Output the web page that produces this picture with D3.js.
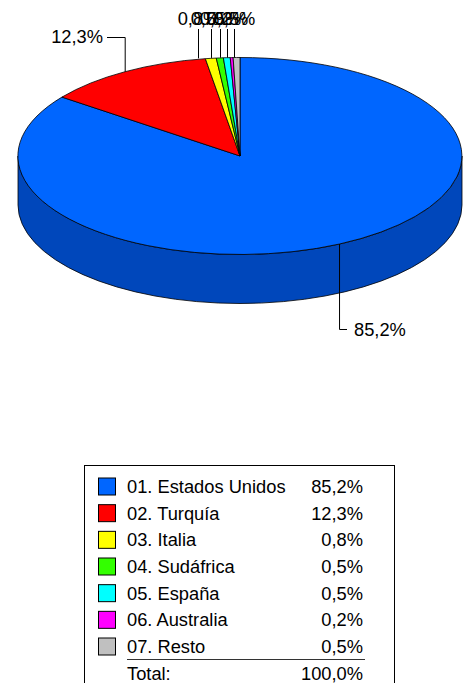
<!DOCTYPE html>
<html><head><meta charset="utf-8">
<script src="https://cdn.jsdelivr.net/npm/d3@7"></script>
<style>html,body{margin:0;padding:0;background:#fff}svg{display:block}text{font-family:"Liberation Sans",Arial,sans-serif;font-size:18.3px;fill:#000}</style>
</head><body><div id="c"></div>
<script>
const categories=["01. Estados Unidos","02. Turquía","03. Italia","04. Sudáfrica","05. España","06. Australia","07. Resto"];
const values=[85.2,12.3,0.8,0.5,0.5,0.2,0.5];
const valueLabels=["85,2%","12,3%","0,8%","0,5%","0,5%","0,2%","0,5%"];
const topColors=["#0066ff","#ff0000","#ffff00","#33ff00","#00ffff","#ff00ff","#c0c0c0"];
const sideColors=["#0047bb","#b30000","#b3b300","#24b300","#00b3b3","#b300b3","#868686"];
const totalLabel=["Total:","100,0%"];

const W=465,H=683,cx=240,cy=156,rx=222,ry=98.5,depth=49;
const svg=d3.select("#c").append("svg").attr("width",W).attr("height",H);
const pie=d3.pie().value(d=>d).sort(null);
const arcs=pie(values);
const px=a=>cx+rx*Math.sin(a), py=a=>cy-ry*Math.cos(a);

const lo=Math.PI/2, hi=3*Math.PI/2;
arcs.forEach((d,i)=>{
  const a=Math.max(d.startAngle,lo), b=Math.min(d.endAngle,hi);
  if(b<=a) return;
  const large=(b-a)>Math.PI?1:0;
  const s=`M${px(a)},${py(a)}A${rx},${ry} 0 ${large} 1 ${px(b)},${py(b)}L${px(b)},${py(b)+depth}A${rx},${ry} 0 ${large} 0 ${px(a)},${py(a)+depth}Z`;
  svg.append("path").attr("d",s).attr("fill",sideColors[i]).attr("stroke","#000").attr("stroke-width",0.8);
});
const arc=d3.arc().innerRadius(0).outerRadius(1);
const g=svg.append("g").attr("transform",`translate(${cx},${cy}) scale(${rx},${ry})`);
g.selectAll("path").data(arcs).join("path").attr("d",arc)
  .attr("fill",(d,i)=>topColors[i]).attr("stroke","#000").attr("stroke-width",0.8)
  .attr("vector-effect","non-scaling-stroke");

const mid=d=>(d.startAngle+d.endAngle)/2;
const lead=svg.append("g").attr("fill","none").attr("stroke","#000").attr("stroke-width",1);
const m0=mid(arcs[0]), m1=mid(arcs[1]);
lead.append("path").attr("d",`M${px(m0)},${py(m0)}V329.5H347`);
lead.append("path").attr("d",`M${px(m1)},${py(m1)}V37.5H107`);
svg.append("text").attr("x",354).attr("y",336).text(valueLabels[0]);
svg.append("text").attr("x",103).attr("y",43).attr("text-anchor","end").text(valueLabels[1]);
const smallX=[198.5,211.5,220.5,227.5,234.5];
arcs.slice(2).forEach((d,i)=>{
  const m=mid(d);
  lead.append("path").attr("d",`M${smallX[i]},${py(m)}V29`);
  svg.append("text").attr("x",smallX[i]).attr("y",25).attr("text-anchor","middle").text(valueLabels[i+2]);
});

svg.append("rect").attr("x",84.5).attr("y",465.5).attr("width",310).attr("height",230).attr("fill","none").attr("stroke","#000");
const rowY=d3.scalePoint().domain(categories).range([486.5,646.5]);
categories.forEach((c,i)=>{
  const y=rowY(c);
  svg.append("rect").attr("x",98.5).attr("y",y-8.5).attr("width",17).attr("height",17).attr("fill",topColors[i]).attr("stroke","#000");
  svg.append("text").attr("x",127).attr("y",y+6.5).text(c);
  svg.append("text").attr("x",363).attr("y",y+6.5).attr("text-anchor","end").text(valueLabels[i]);
});
svg.append("line").attr("x1",127).attr("x2",365).attr("y1",659.5).attr("y2",659.5).attr("stroke","#333");
svg.append("text").attr("x",127).attr("y",680).text(totalLabel[0]);
svg.append("text").attr("x",363).attr("y",680).attr("text-anchor","end").text(totalLabel[1]);
</script></body></html>
